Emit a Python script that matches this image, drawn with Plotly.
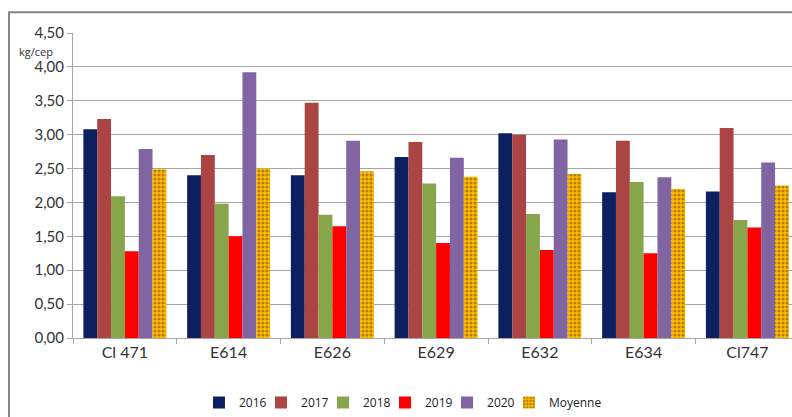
import plotly.graph_objects as go

categories = ["Cl 471", "E614", "E626", "E629", "E632", "E634", "Cl747"]
v2016 = [3.08, 2.40, 2.40, 2.67, 3.02, 2.15, 2.16]
v2017 = [3.23, 2.70, 3.47, 2.89, 3.00, 2.91, 3.10]
v2018 = [2.09, 1.98, 1.82, 2.28, 1.83, 2.30, 1.74]
v2019 = [1.28, 1.50, 1.65, 1.40, 1.30, 1.25, 1.63]
v2020 = [2.79, 3.92, 2.91, 2.66, 2.93, 2.37, 2.59]
moyenne = [2.49, 2.50, 2.46, 2.38, 2.42, 2.20, 2.25]
yticks = [0, 0.5, 1, 1.5, 2, 2.5, 3, 3.5, 4, 4.5]

series = [
    ("2016", v2016, "#0C1F5E"),
    ("2017", v2017, "#AA4543"),
    ("2018", v2018, "#87A64C"),
    ("2019", v2019, "#FF0000"),
    ("2020", v2020, "#8165A2"),
]
legend_x = [0.1752, 0.2615, 0.3477, 0.4339, 0.5202, 0.6064]
legend_ids = ["legend", "legend2", "legend3", "legend4", "legend5", "legend6"]

fig = go.Figure()
for i, (name, vals, col) in enumerate(series):
    fig.add_trace(go.Bar(x=categories, y=vals, name=name, marker_color=col,
                         marker_line_width=0, legend=legend_ids[i]))
fig.add_trace(go.Bar(x=categories, y=moyenne, name="Moyenne", legend=legend_ids[5],
                     marker=dict(color="#FFC000", line_width=0,
                                 pattern=dict(shape=".", fgcolor="#7A3A10",
                                              bgcolor="#FFC000", size=4, solidity=0.5))))

W, H = 792, 417
l, t, b = 73, 33, 66
layout_legends = {}
for lid, lx in zip(legend_ids, legend_x):
    layout_legends[lid] = dict(orientation="h", x=lx, xanchor="left", y=-0.165,
                               yanchor="top", font=dict(size=12, color="#222222"),
                               itemwidth=30, bgcolor="rgba(0,0,0,0)")

fig.update_layout(
    width=W, height=H,
    margin=dict(l=l, r=0, t=t, b=b),
    paper_bgcolor="white", plot_bgcolor="white",
    barmode="group", bargap=0.2, bargroupgap=0,
    separators=", ",
    font=dict(family="Open Sans", color="#333333"),
    showlegend=True,
    xaxis=dict(range=[-0.5, 6.43], showgrid=False, ticks="outside", tickson="boundaries",
               ticklen=5, tickcolor="#a6a6a6", showline=True, linecolor="#a6a6a6",
               tickfont=dict(size=16, family="Lato", color="#333333")),
    yaxis=dict(range=[0, 4.5], tickvals=yticks, tickformat=".2f", showgrid=True,
               gridcolor="#a6a6a6", gridwidth=1, showline=True, linecolor="#a6a6a6",
               ticks="outside", ticklen=5, tickcolor="#a6a6a6", zeroline=False,
               tickfont=dict(size=15, family="Lato", color="#333333")),
    **layout_legends,
)

# outer border (top & left visible)
fig.add_shape(type="rect", xref="paper", yref="paper",
              x0=-0.089, x1=1.2, y0=-0.4, y1=1.068,
              line=dict(color="#858585", width=2), layer="below")

fig.add_annotation(text="kg/cep", xref="paper", yref="paper", x=-0.052, y=0.94,
                   xanchor="center", yanchor="middle", showarrow=False,
                   font=dict(size=11, family="Open Sans", color="#333333"))
fig.add_annotation(text="La récolte", xref="paper", yref="paper", x=0.03, y=1.085,
                   xanchor="left", yanchor="bottom", showarrow=False,
                   font=dict(size=26, family="Lato", color="#333333"))

fig.write_html("out.html")
